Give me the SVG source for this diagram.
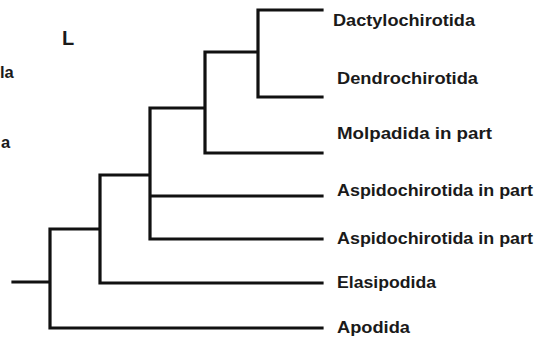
<svg xmlns="http://www.w3.org/2000/svg" width="542" height="343" viewBox="0 0 542 343">
<style>
.e{stroke:#111;stroke-width:3.2;fill:none;stroke-linecap:square}
.t{font-family:"Liberation Sans",Arial,sans-serif;font-weight:bold;font-size:16.5px;fill:#1a1a1a}
</style>
<rect width="542" height="343" fill="#fff"/>
<g id="connectors">
<path class="e" d="M13 282H50M50 229V328H322M50 229H100M100 175V283H322M100 175H150M150 108V239H322M150 196H322M150 108H205M205 52V153H322M205 52H258M258 10V97H322M258 10H322"/>
</g>
<g id="n-dactylo"><text class="t" x="333" y="26" textLength="142" lengthAdjust="spacingAndGlyphs">Dactylochirotida</text></g>
<g id="n-dendro"><text class="t" x="337" y="84" textLength="141" lengthAdjust="spacingAndGlyphs">Dendrochirotida</text></g>
<g id="n-molpa"><text class="t" x="337" y="139" textLength="155" lengthAdjust="spacingAndGlyphs">Molpadida in part</text></g>
<g id="n-aspido1"><text class="t" x="337" y="196" textLength="196" lengthAdjust="spacingAndGlyphs">Aspidochirotida in part</text></g>
<g id="n-aspido2"><text class="t" x="337" y="244" textLength="196" lengthAdjust="spacingAndGlyphs">Aspidochirotida in part</text></g>
<g id="n-elasi"><text class="t" x="337" y="288" textLength="99" lengthAdjust="spacingAndGlyphs">Elasipodida</text></g>
<g id="n-apo"><text class="t" x="337" y="333" textLength="73" lengthAdjust="spacingAndGlyphs">Apodida</text></g>
<g id="n-L"><text class="t" x="62" y="45" style="font-size:20px">L</text></g>
<g id="n-la"><text class="t" x="0" y="78">la</text></g>
<g id="n-a"><text class="t" x="1" y="148">a</text></g>
</svg>
